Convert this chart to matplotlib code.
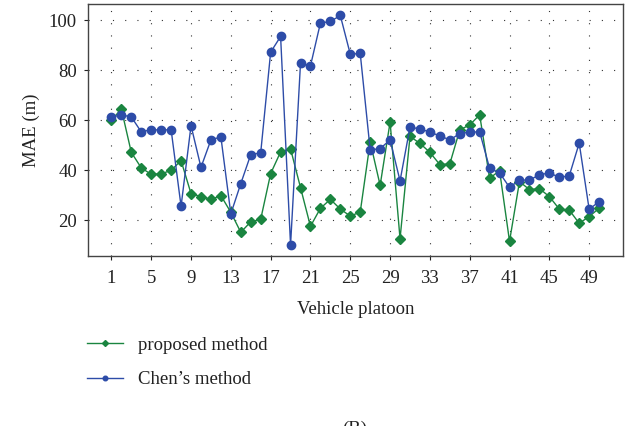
import numpy as np
import matplotlib.pyplot as plt

plt.rcParams['font.family'] = ['Liberation Serif', 'DejaVu Serif']

vehicle = np.arange(1, 51)
proposed = [60.0, 64.6, 47.2, 41.0, 38.4, 38.6, 40.0, 43.9, 30.7, 29.5,
            28.4, 29.9, 23.2, 15.2, 19.4, 20.4, 38.7, 47.4, 48.6, 33.1,
            17.6, 24.8, 28.4, 24.5, 21.7, 23.3, 51.4, 34.0, 59.3, 12.6,
            53.6, 50.8, 47.2, 42.3, 42.6, 56.2, 58.2, 62.2, 36.8, 39.9,
            11.6, 35.5, 32.3, 32.7, 29.5, 24.5, 24.1, 18.8, 21.5, 24.8]
chen = [61.3, 62.2, 61.4, 55.4, 56.3, 56.1, 56.3, 25.6, 57.9, 41.2,
        52.2, 53.4, 22.6, 34.7, 46.3, 47.0, 87.3, 93.6, 10.1, 82.9,
        81.8, 99.0, 99.6, 102.0, 86.5, 86.8, 48.2, 48.7, 52.2, 35.8,
        57.3, 56.6, 55.3, 53.8, 52.2, 54.7, 55.3, 55.4, 40.8, 39.0,
        33.2, 36.1, 36.1, 38.2, 39.0, 37.2, 37.8, 50.9, 24.4, 27.5]
xticks = list(range(1, 50, 4))
yticks = [20, 40, 60, 80, 100]

green = '#1a8540'
blue = '#2d4ca8'

fig = plt.figure(figsize=(6.25, 4.26), dpi=100)
ax = fig.add_axes([0.1408, 0.399, 0.856, 0.5916])

ax.plot(vehicle, proposed, color=green, lw=1.0, marker='D', ms=5.5,
        label='proposed method')
ax.plot(vehicle, chen, color=blue, lw=1.0, marker='o', ms=6,
        label="Chen’s method")

ax.set_xlim(-1.35, 52.4)
ax.set_ylim(5.7, 106.6)
ax.set_xticks(xticks)
ax.set_yticks(yticks)
ax.tick_params(direction='out', length=3, width=0.8, labelsize=13.5,
               colors='#222222')
ax.tick_params(axis='x', pad=7)
ax.tick_params(axis='y', pad=5)
ax.grid(True, color='#333333', lw=0.8, linestyle=(0, (1, 10)))
for s in ax.spines.values():
    s.set_color('#444444')
    s.set_linewidth(1.0)

ax.set_xlabel('Vehicle platoon', fontsize=13.5, color='#222222', labelpad=10)
ax.set_ylabel('MAE (m)', fontsize=13.5, color='#222222', labelpad=6)

fig.legend(loc='upper left', bbox_to_anchor=(0.112, 0.25), frameon=False,
           fontsize=13.5, handlelength=1.9, markerscale=0.55,
           labelspacing=0.95, handletextpad=0.8, labelcolor='#222222')

fig.text(0.568, 0.012, '(B)', fontsize=13.5, color='#222222',
         ha='center', va='top')

fig.savefig('out.png', dpi=100)
